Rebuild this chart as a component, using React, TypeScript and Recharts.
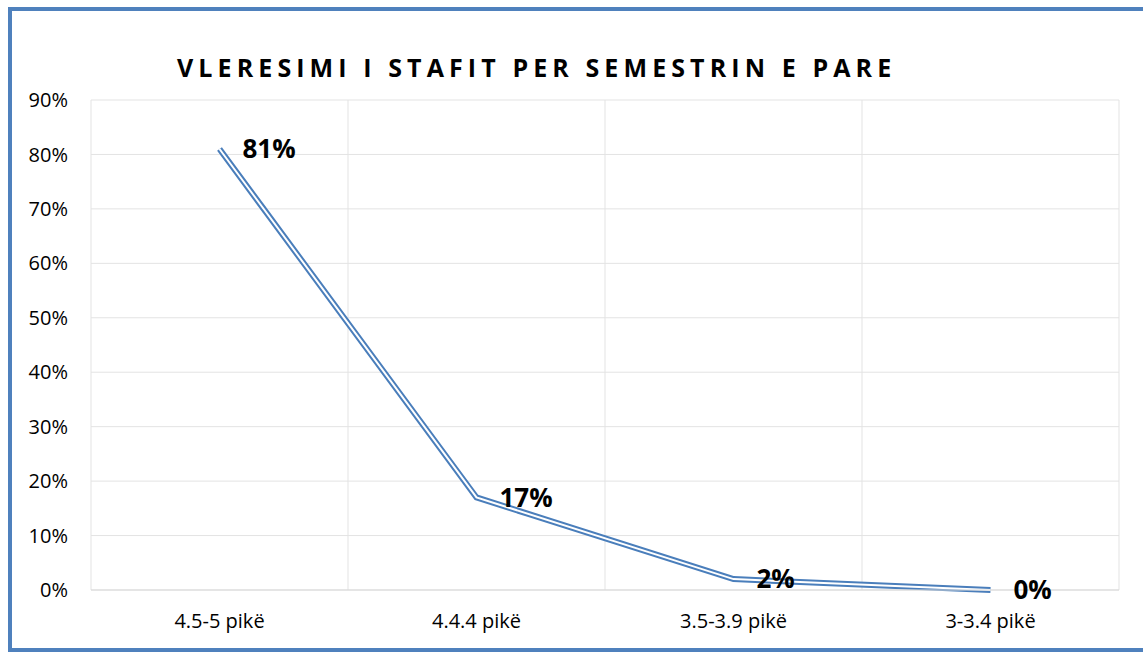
import { CartesianGrid, LabelList, Line, LineChart, XAxis, YAxis } from "recharts";

const categorias = ["4.5-5 pikë", "4.4.4 pikë", "3.5-3.9 pikë", "3-3.4 pikë"];
const valores = [0.81, 0.17, 0.02, 0.0];
const ticksY = [0, 0.1, 0.2, 0.3, 0.4, 0.5, 0.6, 0.7, 0.8, 0.9];

const datos = categorias.map((c, i) => ({ categoria: c, valor: valores[i] }));

const fuente = "'Open Sans', 'Liberation Sans', sans-serif";
const pct = (v: number) => `${Math.round(v * 100)}%`;

export default function App() {
  return (
    <div
      style={{
        position: "fixed",
        left: 8,
        top: 7,
        width: 1135,
        height: 645,
        boxSizing: "border-box",
        borderTop: "4px solid #4F81BD",
        borderLeft: "4px solid #4F81BD",
        borderBottom: "4px solid #4F81BD",
        background: "#fff",
        fontFamily: fuente,
      }}
    >
      <div
        style={{
          position: "absolute",
          left: 165,
          top: 44,
          fontSize: 25,
          lineHeight: "25px",
          fontWeight: 700,
          letterSpacing: 5.1,
          whiteSpace: "nowrap",
          color: "#000",
        }}
      >
        VLERESIMI I STAFIT PER SEMESTRIN E PARE
      </div>
      <LineChart
        width={1131}
        height={640}
        data={datos}
        margin={{ top: 89, right: 24, bottom: 21, left: 0 }}
      >
        <CartesianGrid
          stroke="#E3E3E3"
          verticalCoordinatesGenerator={({ offset }: any) =>
            categorias
              .map((_, i) => offset.left + (offset.width * i) / categorias.length)
              .concat(offset.left + offset.width)
          }
        />
        <XAxis
          dataKey="categoria"
          height={40}
          padding={{ left: 128.5, right: 128.5 }}
          axisLine={{ stroke: "#D9D9D9" }}
          tickLine={false}
          tickSize={0}
          tickMargin={24}
          tick={{ fill: "#000", fontSize: 20, fontFamily: fuente }}
        />
        <YAxis
          width={79}
          domain={[0, 0.9]}
          ticks={ticksY}
          tickFormatter={pct}
          axisLine={false}
          tickLine={false}
          tickSize={0}
          tickMargin={23}
          tick={{ fill: "#000", fontSize: 20, fontFamily: fuente }}
        />
        <Line
          dataKey="valor"
          stroke="#4A7EBB"
          strokeWidth={6}
          dot={false}
          activeDot={false}
          type="linear"
          isAnimationActive={false}
        />
        <Line
          dataKey="valor"
          stroke="#FFFFFF"
          strokeWidth={2}
          dot={false}
          activeDot={false}
          type="linear"
          isAnimationActive={false}
        >
          <LabelList
            dataKey="valor"
            position="right"
            offset={23}
            formatter={(v: any) => pct(Number(v))}
            style={{ fill: "#000", fontSize: 26, fontWeight: 700, fontFamily: fuente }}
          />
        </Line>
      </LineChart>
    </div>
  );
}
